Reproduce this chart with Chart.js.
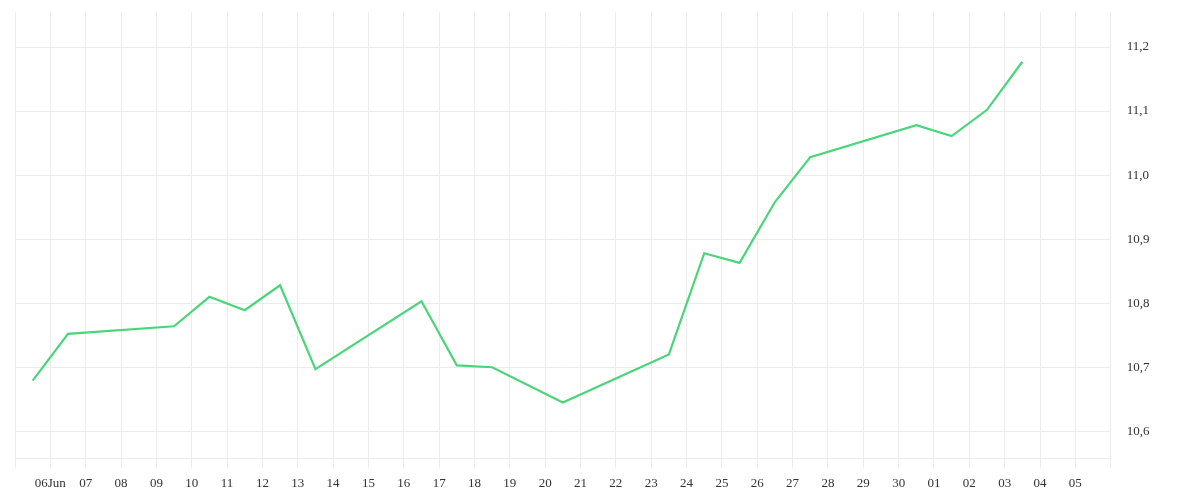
<!DOCTYPE html>
<html>
<head>
<meta charset="utf-8">
<script src="https://cdn.jsdelivr.net/npm/chart.js@4.4.1/dist/chart.umd.min.js"></script>
<style>
  html, body { margin: 0; padding: 0; background: #ffffff; }
  #wrap { width: 1200px; height: 500px; position: relative; }
</style>
</head>
<body>
<div id="wrap"><canvas id="c"></canvas></div>
<script>
// ---- data ----
const startDate = '2021-06-05';
const dates = ['2021-06-05','2021-06-06','2021-06-09','2021-06-10','2021-06-11','2021-06-12',
               '2021-06-13','2021-06-16','2021-06-17','2021-06-18','2021-06-20','2021-06-23',
               '2021-06-24','2021-06-25','2021-06-26','2021-06-27','2021-06-30','2021-07-01',
               '2021-07-02','2021-07-03'];
const values = [10.679, 10.752, 10.764, 10.810, 10.789, 10.828,
                10.697, 10.803, 10.703, 10.700, 10.645, 10.720,
                10.878, 10.863, 10.958, 11.028, 11.078, 11.061,
                11.102, 11.177];
const xTickLabels = ['', '06Jun', '07', '08', '09', '10', '11', '12', '13', '14', '15', '16',
                     '17', '18', '19', '20', '21', '22', '23', '24', '25', '26', '27', '28',
                     '29', '30', '01', '02', '03', '04', '05', ''];
const yMin = 10.5578;
const yMax = 11.2547;

// ---- build ----
const DAY = 86400000;
const t0 = Date.parse(startDate + 'T00:00:00Z');
const points = dates.map((d, i) => ({
  x: (Date.parse(d + 'T12:00:00Z') - t0) / DAY,
  y: values[i]
}));

const gridColor = '#ececec';
const tickFont = { family: '"Liberation Serif", "Times New Roman", serif', size: 13 };
const tickColor = '#333333';

new Chart(document.getElementById('c'), {
  type: 'line',
  data: {
    datasets: [{
      data: points,
      borderColor: '#4bd57b',
      borderWidth: 2.2,
      pointRadius: 0,
      pointHoverRadius: 0,
      tension: 0,
      fill: false
    }]
  },
  options: {
    responsive: true,
    maintainAspectRatio: false,
    animation: false,
    devicePixelRatio: 1,
    layout: { padding: { left: 15, top: 12, right: 0, bottom: 0 } },
    plugins: { legend: { display: false }, tooltip: { enabled: false } },
    scales: {
      x: {
        type: 'linear',
        position: 'bottom',
        min: 0,
        max: xTickLabels.length - 1,
        afterFit: (s) => { s.height = 41.7; s.paddingLeft = 0; s.paddingRight = 0; },
        grid: { color: gridColor, lineWidth: 1, drawTicks: true, tickLength: 10, tickColor: gridColor },
        border: { color: gridColor, width: 1 },
        ticks: {
          stepSize: 1,
          autoSkip: false,
          maxRotation: 0,
          padding: 7,
          color: tickColor,
          font: tickFont,
          callback: (v) => xTickLabels[Math.round(v)] ?? ''
        }
      },
      y: {
        type: 'linear',
        position: 'right',
        min: yMin,
        max: yMax,
        afterFit: (s) => { s.width = 89.3; s.paddingTop = 0; s.paddingBottom = 0; },
        grid: { color: gridColor, lineWidth: 1, drawTicks: false },
        border: { color: gridColor, width: 1 },
        ticks: {
          stepSize: 0.1,
          includeBounds: false,
          padding: 16,
          color: tickColor,
          font: tickFont,
          callback: (v) => v.toFixed(1).replace('.', ',')
        }
      }
    }
  }
});
</script>
</body>
</html>
